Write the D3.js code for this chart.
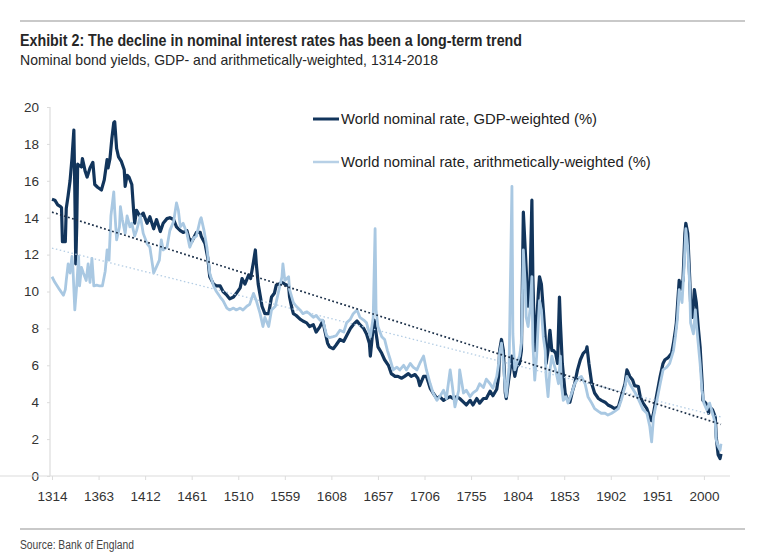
<!DOCTYPE html>
<html>
<head>
<meta charset="utf-8">
<script src="https://cdn.jsdelivr.net/npm/d3@7"></script>
<style>
  html, body { margin: 0; padding: 0; background: #ffffff; }
  svg { display: block; }
</style>
</head>
<body>
<svg id="chart" width="759" height="556"></svg>
<script>
// ---------------- DATA ----------------
const titleText = "Exhibit 2: The decline in nominal interest rates has been a long-term trend";
const subtitleText = "Nominal bond yields, GDP- and arithmetically-weighted, 1314-2018";
const sourceText = "Source: Bank of England";
const seriesNames = ["World nominal rate, GDP-weighted (%)", "World nominal rate, arithmetically-weighted (%)"];

const xTickYears = [1314, 1363, 1412, 1461, 1510, 1559, 1608, 1657, 1706, 1755, 1804, 1853, 1902, 1951, 2000];
const yTickValues = [0, 2, 4, 6, 8, 10, 12, 14, 16, 18, 20];

// GDP-weighted world nominal rate: [year, %]
const gdpWeighted = [
[1314,15.0],[1317,14.95],[1320,14.7],[1323,14.6],[1324,14.55],[1325,12.7],[1328,12.7],[1329,14.5],[1331,15.2],[1333,16.0],[1335,17.2],[1337,18.75],[1338,15.5],[1339,11.5],[1340,13.5],[1341,16.9],[1342,16.85],[1345,16.75],[1346,17.2],[1349,16.5],[1351,16.2],[1354,16.7],[1357,17.0],[1359,15.8],[1362,15.65],[1366,15.5],[1369,16.05],[1372,17.15],[1373,16.7],[1375,17.2],[1377,18.3],[1379,19.15],[1380,19.2],[1382,17.75],[1384,17.3],[1387,17.05],[1390,16.6],[1391,15.7],[1393,16.3],[1395,16.2],[1398,15.8],[1400,14.3],[1401,13.7],[1403,14.4],[1407,14.05],[1410,14.25],[1414,13.7],[1417,14.05],[1421,13.4],[1424,13.9],[1428,13.25],[1431,13.7],[1435,13.95],[1438,14.0],[1442,13.9],[1445,13.5],[1449,13.3],[1452,13.2],[1456,13.3],[1458,12.9],[1461,12.7],[1464,13.0],[1466,13.2],[1470,13.2],[1471,13.0],[1475,12.6],[1478,11.8],[1480,10.8],[1484,10.4],[1487,10.3],[1491,10.3],[1494,10.0],[1498,9.8],[1501,9.6],[1505,9.7],[1508,9.9],[1512,10.2],[1514,10.7],[1517,10.4],[1521,10.9],[1523,10.7],[1526,11.6],[1528,12.25],[1529,11.5],[1531,10.4],[1535,9.2],[1538,8.8],[1542,8.8],[1545,9.7],[1548,9.9],[1550,10.35],[1553,10.4],[1556,10.5],[1559,10.4],[1563,10.3],[1564,9.7],[1566,9.2],[1568,8.8],[1571,8.7],[1575,8.5],[1578,8.4],[1582,8.3],[1585,8.1],[1589,8.2],[1592,7.8],[1596,8.1],[1599,8.4],[1601,7.9],[1604,7.2],[1606,7.0],[1610,6.9],[1613,7.1],[1617,7.4],[1621,7.3],[1624,7.6],[1628,8.0],[1631,8.2],[1635,8.4],[1638,8.2],[1642,8.0],[1645,7.7],[1648,7.2],[1649,6.5],[1651,7.55],[1653,8.45],[1656,7.4],[1657,7.0],[1661,6.65],[1664,6.3],[1668,6.0],[1671,5.55],[1675,5.4],[1678,5.4],[1682,5.3],[1685,5.4],[1689,5.55],[1692,5.4],[1696,5.5],[1699,5.3],[1701,4.9],[1705,5.4],[1708,5.4],[1712,4.75],[1715,4.5],[1719,4.2],[1722,4.3],[1726,4.1],[1729,4.2],[1733,4.3],[1736,4.2],[1740,4.3],[1743,4.2],[1747,4.0],[1750,3.85],[1754,4.1],[1757,3.85],[1761,4.2],[1764,3.95],[1768,4.2],[1771,4.2],[1775,4.6],[1778,4.35],[1782,4.7],[1784,5.4],[1785,6.8],[1787,7.4],[1789,6.8],[1791,4.5],[1792,4.2],[1794,5.0],[1798,6.5],[1799,6.1],[1801,5.4],[1803,5.9],[1806,6.1],[1808,6.8],[1810,14.3],[1812,12.25],[1813,11.2],[1815,9.2],[1817,10.4],[1819,14.95],[1820,10.8],[1822,6.8],[1824,8.3],[1826,10.1],[1827,10.8],[1829,10.4],[1831,9.0],[1833,7.55],[1834,6.1],[1836,6.8],[1838,7.9],[1840,6.8],[1842,6.8],[1844,6.65],[1846,6.1],[1848,9.7],[1849,8.3],[1851,6.1],[1854,4.5],[1856,4.2],[1859,4.0],[1862,4.65],[1864,5.0],[1867,5.75],[1870,6.3],[1873,6.65],[1876,6.8],[1877,7.0],[1879,6.1],[1882,5.0],[1885,4.5],[1889,4.2],[1892,4.1],[1896,4.0],[1899,3.85],[1903,3.75],[1906,3.65],[1910,3.75],[1913,4.3],[1917,5.0],[1919,5.75],[1920,5.65],[1922,5.4],[1925,5.2],[1927,4.9],[1931,4.85],[1933,4.3],[1936,3.95],[1940,3.65],[1943,3.2],[1945,3.0],[1947,3.4],[1950,4.3],[1954,5.4],[1957,6.1],[1959,6.3],[1962,6.4],[1966,6.65],[1968,7.2],[1970,7.9],[1971,8.3],[1974,10.6],[1975,10.1],[1978,10.6],[1980,13.15],[1981,13.7],[1983,13.15],[1985,10.8],[1986,9.4],[1988,8.6],[1990,10.1],[1992,9.4],[1994,8.1],[1996,7.0],[1998,5.2],[1999,4.1],[2002,3.95],[2005,3.4],[2006,3.75],[2009,3.6],[2012,3.2],[2013,2.1],[2015,1.15],[2017,0.95],[2018,1.2]
];

// Arithmetically-weighted world nominal rate: [year, %]
const arithWeighted = [
[1314,10.8],[1317,10.5],[1322,10.1],[1326,9.8],[1328,10.1],[1329,10.6],[1331,11.5],[1333,11.0],[1335,11.9],[1336,11.3],[1338,9.0],[1340,10.3],[1342,11.9],[1343,10.3],[1345,11.3],[1347,11.0],[1350,10.6],[1352,11.5],[1354,10.5],[1356,11.8],[1358,10.3],[1361,10.35],[1364,10.3],[1367,10.3],[1370,11.1],[1372,12.25],[1374,11.7],[1376,14.1],[1379,15.4],[1380,14.4],[1382,12.8],[1385,13.5],[1386,14.6],[1388,13.9],[1391,13.15],[1393,14.1],[1396,13.5],[1398,13.7],[1401,13.0],[1403,13.3],[1407,14.1],[1410,13.15],[1414,12.6],[1417,12.4],[1419,11.7],[1421,11.0],[1424,11.35],[1427,11.7],[1429,12.8],[1431,12.25],[1435,12.4],[1438,13.3],[1442,13.8],[1445,14.8],[1447,14.4],[1449,13.5],[1452,13.7],[1456,13.15],[1459,12.4],[1463,12.9],[1466,13.0],[1470,13.9],[1471,14.0],[1474,13.3],[1477,12.4],[1480,11.0],[1484,10.3],[1487,10.0],[1491,9.7],[1494,9.5],[1498,9.1],[1501,9.0],[1505,9.1],[1508,9.0],[1512,9.1],[1515,9.0],[1519,9.2],[1522,9.3],[1526,9.9],[1529,9.5],[1533,8.8],[1536,8.1],[1538,8.6],[1542,8.1],[1545,9.0],[1549,9.2],[1552,9.9],[1556,10.8],[1557,11.5],[1559,10.6],[1563,10.8],[1564,10.1],[1568,9.4],[1571,9.2],[1575,9.0],[1578,8.8],[1582,8.9],[1585,8.8],[1589,8.6],[1592,8.7],[1596,8.45],[1599,8.45],[1603,7.6],[1606,7.5],[1610,7.55],[1613,7.6],[1617,7.9],[1621,7.8],[1624,8.3],[1628,8.5],[1631,8.8],[1635,9.0],[1638,8.6],[1642,8.45],[1645,8.3],[1649,7.55],[1652,8.6],[1654,13.4],[1655,9.0],[1657,8.1],[1661,7.55],[1664,7.4],[1667,6.8],[1670,6.3],[1673,5.75],[1677,5.9],[1680,5.75],[1684,6.0],[1687,5.75],[1691,6.1],[1694,5.9],[1698,5.75],[1701,6.1],[1705,6.5],[1708,5.75],[1712,5.0],[1715,4.5],[1719,4.1],[1722,4.3],[1726,4.65],[1729,4.2],[1733,5.75],[1735,5.0],[1738,3.75],[1742,4.65],[1743,5.75],[1747,4.5],[1750,4.65],[1754,4.3],[1757,4.5],[1761,4.65],[1764,5.0],[1768,4.8],[1771,5.25],[1775,5.0],[1778,4.75],[1782,5.4],[1784,6.1],[1785,6.65],[1787,7.2],[1789,6.1],[1791,4.65],[1792,4.3],[1795,5.9],[1798,15.7],[1799,7.7],[1801,5.75],[1803,6.1],[1806,6.5],[1808,7.2],[1810,12.25],[1812,10.4],[1813,8.6],[1815,8.1],[1817,9.0],[1819,10.8],[1820,7.2],[1822,5.2],[1824,6.5],[1826,8.6],[1827,9.5],[1829,9.0],[1831,7.55],[1833,6.8],[1834,5.4],[1836,4.3],[1838,5.75],[1840,6.5],[1842,6.1],[1844,5.75],[1847,5.0],[1849,6.5],[1850,5.0],[1852,4.1],[1855,4.3],[1857,3.95],[1861,4.5],[1864,5.0],[1868,5.3],[1871,5.4],[1875,5.0],[1878,4.3],[1882,3.95],[1885,3.65],[1889,3.5],[1892,3.4],[1896,3.4],[1899,3.3],[1903,3.4],[1906,3.5],[1910,3.65],[1913,4.1],[1917,4.85],[1919,5.4],[1922,5.0],[1926,4.65],[1929,4.4],[1933,3.95],[1936,3.6],[1940,3.4],[1943,2.7],[1945,1.85],[1947,3.2],[1950,3.95],[1954,5.0],[1957,5.75],[1961,5.9],[1964,6.1],[1968,6.8],[1970,7.55],[1972,8.45],[1974,10.1],[1977,9.4],[1979,11.2],[1981,13.4],[1983,12.4],[1985,10.4],[1986,8.3],[1989,7.7],[1991,9.0],[1992,8.3],[1994,7.2],[1996,6.1],[1998,4.65],[2000,3.95],[2003,3.6],[2006,3.95],[2008,3.6],[2012,2.85],[2013,1.95],[2015,1.6],[2017,1.4],[2018,1.75]
];

// Linear trend lines (end points)
const gdpTrend = [[1314, 14.3], [2018, 2.8]];
const arithTrend = [[1314, 12.35], [2018, 3.2]];

// ---------------- DRAWING ----------------
const svg = d3.select("#chart");

const regular = "'Liberation Sans', Arial, Helvetica, sans-serif";

// condensed look: natural Liberation Sans compressed to the measured width
function squeeze(sel, targetWidth) {
  const w = sel.node().getComputedTextLength();
  if (w > targetWidth) sel.attr("textLength", targetWidth).attr("lengthAdjust", "spacingAndGlyphs");
}
function fitText(sel, targetWidth) {
  const fs = parseFloat(sel.attr("font-size"));
  const w = sel.node().getComputedTextLength();
  if (w > 0) sel.attr("font-size", (fs * targetWidth / w).toFixed(2));
}

// top and bottom rules
svg.append("line").attr("x1", 20).attr("x2", 745).attr("y1", 21).attr("y2", 21)
  .attr("stroke", "#c9c9c9").attr("stroke-width", 2);
svg.append("line").attr("x1", 20).attr("x2", 745).attr("y1", 529).attr("y2", 529)
  .attr("stroke", "#c9c9c9").attr("stroke-width", 2);

// title & subtitle
const title = svg.append("text").attr("x", 20).attr("y", 46)
  .attr("font-family", regular).attr("font-weight", "bold").attr("font-size", 16.5)
  .attr("fill", "#262626").text(titleText);
squeeze(title, 502);
const subtitle = svg.append("text").attr("x", 20).attr("y", 65)
  .attr("font-family", regular).attr("font-size", 14.5)
  .attr("fill", "#262626").text(subtitleText);
squeeze(subtitle, 418);

// source
const source = svg.append("text").attr("x", 20).attr("y", 549)
  .attr("font-family", regular).attr("font-size", 12.5)
  .attr("fill", "#444").text(sourceText);
squeeze(source, 114);

// scales
const x = d3.scaleLinear().domain([1314, 2018]).range([52, 721]);
const y = d3.scaleLinear().domain([0, 20]).range([476, 107]);

const plot = svg.append("g");

// axes
const yAxis = plot.append("g").attr("transform", "translate(50,0)")
  .call(d3.axisLeft(y).tickValues(yTickValues).tickSize(3).tickPadding(8).tickFormat(d3.format("d")));
const xAxis = plot.append("g").attr("transform", "translate(0,476)")
  .call(d3.axisBottom(x).tickValues(xTickYears).tickSize(4).tickPadding(8).tickFormat(d3.format("d")));

[yAxis, xAxis].forEach(a => {
  a.select(".domain").attr("stroke", "#dcdcdc").attr("stroke-width", 1.2);
  a.selectAll(".tick line").attr("stroke", "#dcdcdc");
  a.selectAll(".tick text").attr("font-family", regular).attr("font-size", 13.5).attr("fill", "#333");
});
yAxis.select(".domain").attr("d", `M0,${y(20)}V${y(0)}`);
xAxis.select(".domain").attr("d", `M-2,0H730`);
xAxis.selectAll(".tick text").attr("dy", "0.95em");

// lines
const line = d3.line().x(d => x(d[0])).y(d => y(d[1])).curve(d3.curveLinear);

plot.append("path").datum(gdpWeighted).attr("d", line)
  .attr("fill", "none").attr("stroke", "#12355c").attr("stroke-width", 3.2)
  .attr("stroke-linejoin", "round");
plot.append("path").datum(arithWeighted).attr("d", line)
  .attr("fill", "none").attr("stroke", "#a9c8e2").attr("stroke-width", 2.8)
  .attr("stroke-linejoin", "round");

// trend lines
plot.append("path").datum(arithTrend).attr("d", line)
  .attr("fill", "none").attr("stroke", "#b4cde4").attr("stroke-width", 1.3)
  .attr("stroke-dasharray", "1.5,2.5");
plot.append("path").datum(gdpTrend).attr("d", line)
  .attr("fill", "none").attr("stroke", "#1c3049").attr("stroke-width", 1.7)
  .attr("stroke-dasharray", "1.8,2.4");

// legend
const legendItems = [
  { name: seriesNames[0], color: "#12355c", width: 3, y: 119, target: 256 },
  { name: seriesNames[1], color: "#b7d0e6", width: 2.5, y: 162, target: 310 }
];
legendItems.forEach(it => {
  svg.append("line").attr("x1", 313).attr("x2", 339).attr("y1", it.y).attr("y2", it.y)
    .attr("stroke", it.color).attr("stroke-width", it.width);
  const t = svg.append("text").attr("x", 341).attr("y", it.y + 5)
    .attr("font-family", regular).attr("font-size", 14).attr("fill", "#222").text(it.name);
  fitText(t, it.target);
});
</script>
</body>
</html>
